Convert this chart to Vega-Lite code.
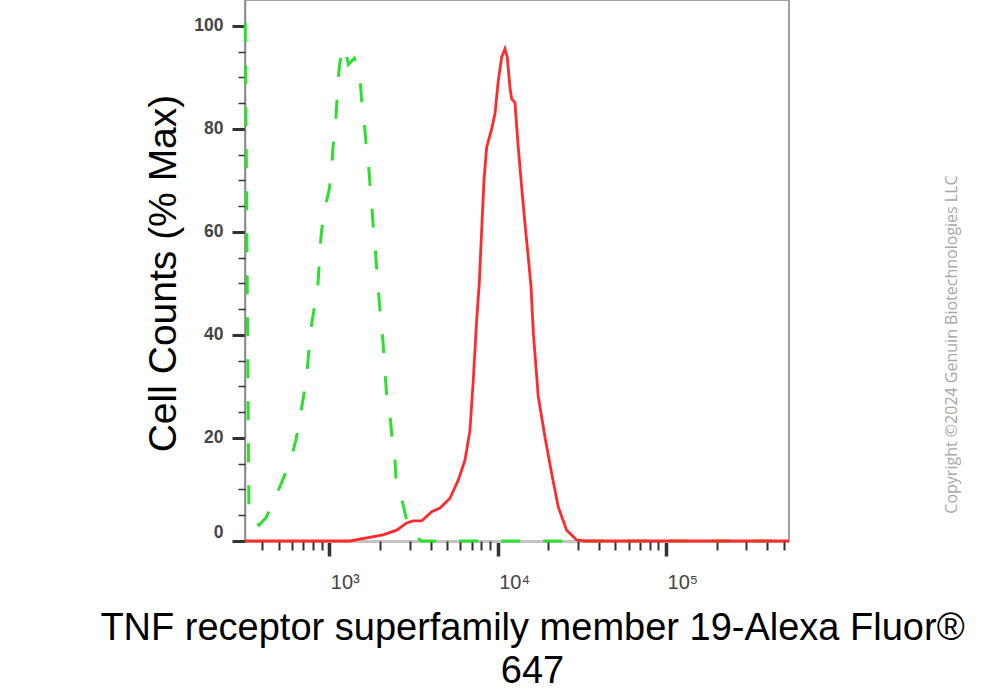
{
  "$schema": "https://vega.github.io/schema/vega-lite/v6.json",
  "width": 544,
  "height": 541,
  "autosize": {"type": "none"},
  "padding": {"left": 245, "top": 0, "right": 206, "bottom": 149},
  "background": "white",
  "config": {"view": {"stroke": "#a0a0a0", "strokeWidth": 2}, "axis": {"grid": false}},
  "datasets": {
    "ctrl": [
      {"x": 317, "y": 100.5}, {"x": 333.6, "y": 5}, {"x": 352.3, "y": 4.5}, {"x": 382.3, "y": 3.1},
      {"x": 420.9, "y": 4.5}, {"x": 476, "y": 8.3}, {"x": 528.9, "y": 11.8}, {"x": 589.9, "y": 15.7},
      {"x": 634.3, "y": 19.6}, {"x": 669.9, "y": 23.8}, {"x": 700.8, "y": 27.7}, {"x": 734.2, "y": 31.8},
      {"x": 750.4, "y": 35.7}, {"x": 775.3, "y": 40}, {"x": 786.2, "y": 42.2}, {"x": 853.4, "y": 49},
      {"x": 865.6, "y": 52.2}, {"x": 880.6, "y": 56.8}, {"x": 901.2, "y": 60.3}, {"x": 943, "y": 64.7},
      {"x": 1000, "y": 68.2}, {"x": 1037.5, "y": 72.9}, {"x": 1051.9, "y": 76.4}, {"x": 1091.4, "y": 81},
      {"x": 1106.3, "y": 84.5}, {"x": 1126.3, "y": 89.3}, {"x": 1157.4, "y": 93}, {"x": 1231, "y": 96},
      {"x": 1300, "y": 92.5}, {"x": 1408, "y": 93.7}, {"x": 1522, "y": 90}, {"x": 1557, "y": 85.5},
      {"x": 1607, "y": 82}, {"x": 1651, "y": 77.4}, {"x": 1704, "y": 73.8}, {"x": 1744, "y": 69.4},
      {"x": 1785, "y": 65.5}, {"x": 1825, "y": 61}, {"x": 1868, "y": 57.4}, {"x": 1912, "y": 53},
      {"x": 1954, "y": 49}, {"x": 2000, "y": 44.8}, {"x": 2084, "y": 38.8}, {"x": 2142, "y": 32.8},
      {"x": 2193, "y": 28.3}, {"x": 2294, "y": 24.4}, {"x": 2357, "y": 20.2}, {"x": 2446, "y": 16.7},
      {"x": 2490, "y": 12.2}, {"x": 2691, "y": 8.3}, {"x": 2882, "y": 4}, {"x": 3056, "y": 2},
      {"x": 3304, "y": 0.6}, {"x": 3552, "y": 0}, {"x": 10000, "y": 0}, {"x": 100000, "y": 0},
      {"x": 537000, "y": 0}
    ],
    "tnf": [
      {"x": 316, "y": 0}, {"x": 1327, "y": 0}, {"x": 1668, "y": 0.6}, {"x": 2084, "y": 1.2},
      {"x": 2513, "y": 2.1}, {"x": 2882, "y": 3.5}, {"x": 3141, "y": 3.9}, {"x": 3538, "y": 3.9},
      {"x": 4056, "y": 5.7}, {"x": 4544, "y": 6.4}, {"x": 5209, "y": 8.3}, {"x": 5834, "y": 11.8},
      {"x": 6395, "y": 15.7}, {"x": 6847, "y": 21.5}, {"x": 7163, "y": 31.2}, {"x": 7504, "y": 42.8},
      {"x": 7775, "y": 50}, {"x": 8035, "y": 60.3}, {"x": 8293, "y": 70}, {"x": 8604, "y": 76.4},
      {"x": 9213, "y": 80}, {"x": 9638, "y": 82.9}, {"x": 10083, "y": 89.3}, {"x": 10563, "y": 93.9},
      {"x": 11050, "y": 95.5}, {"x": 11403, "y": 93.9}, {"x": 11834, "y": 88}, {"x": 12110, "y": 85.8},
      {"x": 12668, "y": 85.1}, {"x": 13253, "y": 76.4}, {"x": 13883, "y": 68.7}, {"x": 14525, "y": 61.6},
      {"x": 15195, "y": 55.1}, {"x": 15765, "y": 49.5}, {"x": 16316, "y": 40}, {"x": 17425, "y": 28},
      {"x": 19096, "y": 20.2}, {"x": 20928, "y": 13.1}, {"x": 22902, "y": 6.6}, {"x": 25691, "y": 2.1},
      {"x": 29451, "y": 0.2}, {"x": 32990, "y": 0}, {"x": 537000, "y": 0}
    ]
  },
  "layer": [
    {
      "layer": [
        {
          "data": {"name": "ctrl"},
          "mark": {"type": "line", "color": "#2de02d", "strokeWidth": 3, "strokeDash": [19, 23], "strokeCap": "butt"},
          "encoding": {
            "x": {
              "field": "x", "type": "quantitative",
              "scale": {"type": "log", "domain": [316, 537000], "nice": false},
              "axis": {
                "orient": "bottom",
                "values": [1000, 10000, 100000],
                "labelExpr": "datum.value == 1000 ? '10³' : datum.value == 10000 ? '10⁴' : '10⁵'",
                "tickSize": 15, "tickWidth": 3.5, "tickColor": "#333333",
                "domainColor": "#c4c4c4", "domainWidth": 3,
                "labelFont": "Liberation Sans", "labelFontSize": 20, "labelColor": "#444444",
                "labelAlign": "left", "labelBaseline": "alphabetic", "labelPadding": 32, "labelOffset": 1,
                "labelFlush": false, "labelOverlap": false, "labelBound": false,
                "title": ["TNF receptor superfamily member 19-Alexa Fluor®", "647"],
                "titleFont": "Liberation Sans", "titleFontSize": 38, "titleFontWeight": "normal", "titleColor": "#000000",
                "titleX": 287, "titleY": 98, "titleAlign": "center", "titleBaseline": "alphabetic", "titleLineHeight": 43
              }
            },
            "y": {
              "field": "y", "type": "quantitative",
              "scale": {"domain": [0, 105], "nice": false},
              "axis": {
                "orient": "left",
                "values": [0, 20, 40, 60, 80, 100],
                "tickSize": 13, "tickWidth": 3, "tickColor": "#333333",
                "domainColor": "#888888", "domainWidth": 1.5,
                "labelFont": "Liberation Sans", "labelFontSize": 17.5, "labelFontWeight": "bold", "labelColor": "#444444",
                "labelPadding": 9, "labelFlush": true, "labelOverlap": false,
                "title": "Cell Counts (% Max)",
                "titleFont": "Liberation Sans", "titleFontSize": 39, "titleFontWeight": "normal", "titleColor": "#000000",
                "titleX": -70, "titleY": 273, "titleAlign": "center", "titleBaseline": "alphabetic", "titleAngle": 270
              }
            }
          }
        },
        {
          "data": {"name": "tnf"},
          "mark": {"type": "line", "color": "#ff2b2b", "strokeWidth": 2.8},
          "encoding": {
            "x": {
              "field": "x", "type": "quantitative",
              "axis": {
                "orient": "bottom",
                "values": [400, 500, 600, 700, 800, 900, 2000, 3000, 4000, 5000, 6000, 7000, 8000, 9000, 20000, 30000, 40000, 50000, 60000, 70000, 80000, 90000, 200000, 300000, 400000, 500000],
                "labels": false, "domain": false, "title": null,
                "tickSize": 9, "tickWidth": 2, "tickColor": "#333333", "tickOffset": 0
              }
            },
            "y": {
              "field": "y", "type": "quantitative",
              "axis": {
                "orient": "left",
                "values": [5, 10, 15, 25, 30, 35, 45, 50, 55, 65, 70, 75, 85, 90, 95],
                "labels": false, "domain": false, "title": null,
                "tickSize": 7, "tickWidth": 1.5, "tickColor": "#333333"
              }
            }
          }
        }
      ],
      "resolve": {"axis": {"x": "independent", "y": "independent"}}
    },
    {
      "data": {"name": "tnf"},
      "mark": {"type": "rule", "opacity": 0},
      "encoding": {
        "y": {
          "field": "y", "type": "quantitative", "aggregate": "max",
          "axis": {
            "orient": "right",
            "title": "Copyright ©2024 Genuin Biotechnologies LLC",
            "labels": false, "ticks": false, "domain": false, "grid": false,
            "titleAngle": 270, "titleX": 162, "titleY": 344, "titleAlign": "center", "titleBaseline": "middle",
            "titleFont": "Open Sans", "titleFontSize": 16, "titleFontWeight": "normal", "titleColor": "#a8a8a8"
          }
        }
      }
    }
  ],
  "resolve": {"scale": {"y": "independent"}}
}
